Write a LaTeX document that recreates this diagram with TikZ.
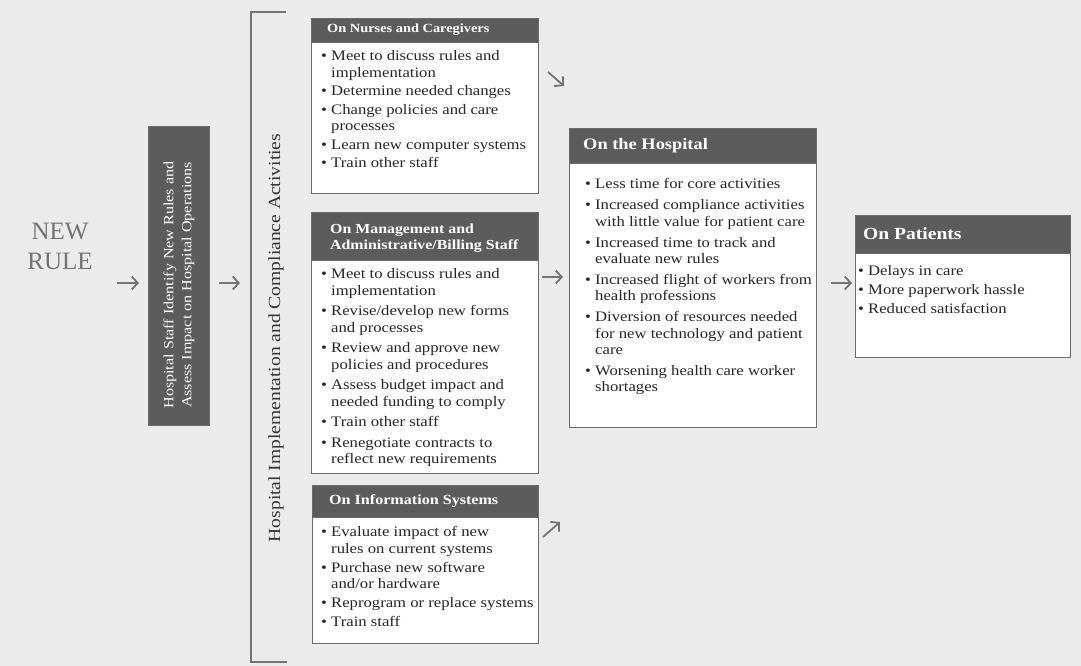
\documentclass[tikz,border=0pt]{standalone}
\usepackage{fontspec}
\setmainfont{Liberation Serif}[FakeStretch=1.15]
\newfontfamily\plainserif{Liberation Serif}
\usetikzlibrary{arrows.meta}
\definecolor{bgc}{gray}{0.92}
\definecolor{hdr}{gray}{0.36}
\definecolor{edge}{gray}{0.42}
\definecolor{arrc}{gray}{0.45}
\newcommand{\bl}{\makebox[10pt][l]{\textbullet}}
\newcommand{\ind}{\hspace*{10pt}}
\begin{document}
\begin{tikzpicture}[x=1pt,y=-1pt,
  panel/.style={draw=edge, line width=1.4pt, fill=white, anchor=north west, inner sep=0pt, rectangle},
  hbar/.style={fill=hdr, draw=edge, line width=1.4pt, anchor=north west, inner sep=0pt, rectangle},
  ttl/.style={text=white, anchor=west, inner sep=0pt, align=left},
  body/.style={anchor=north west, inner sep=0pt, align=left, font=\fontsize{14.5}{16.5}\selectfont, text=black!85},
  arr/.style={draw=arrc, line width=1.8pt, -{Straight Barb[length=6pt,width=13pt]}}
]
\useasboundingbox (0,0) rectangle (1081,666);
\fill[bgc] (0,0) rectangle (1081,666);

% NEW RULE
\node[font=\plainserif\fontsize{25}{30}\selectfont, text=black!55, align=center, inner sep=0pt] (newrule) at (60,246) {NEW\\RULE};

% dark box
\node[fill=hdr, draw=edge, line width=1pt, minimum width=61pt, minimum height=299pt, anchor=north west, inner sep=0pt] (staff) at (148,126) {};
\node[rotate=90, text=white, align=center, inner sep=0pt, font=\fontsize{14}{18}\selectfont] (stafft) at (179,285) {Hospital Staff Identify New Rules and\\Assess Impact on Hospital Operations};

% bracket
\draw[draw=arrc, line width=1.6pt] (286,12) -- (251,12) -- (251,662) -- (287,662);
\node[rotate=90, inner sep=0pt, font=\fontsize{17}{17}\selectfont, text=black!80] (impl) at (276,338) {Hospital Implementation and Compliance Activities};

% Nurses
\node[panel, minimum width=227pt, minimum height=175pt] (nurses) at (311,18) {};
\node[hbar, minimum width=227pt, minimum height=24pt] (nursesH) at (311,18) {};
\node[ttl, font=\bfseries\fontsize{12.5}{14}\selectfont] (nursesT) at (327,30) {On Nurses and Caregivers};
\node[body] (nursesB) at (321,50.5) {\bl Meet to discuss rules and\\\ind implementation\\[2pt]
\bl Determine needed changes\\[2pt]
\bl Change policies and care\\\ind processes\\[2pt]
\bl Learn new computer systems\\[2pt]
\bl Train other staff};

% Management
\node[panel, minimum width=227pt, minimum height=261pt] (mgmt) at (311,212) {};
\node[hbar, minimum width=227pt, minimum height=48pt] (mgmtH) at (311,212) {};
\node[ttl, font=\bfseries\fontsize{13.8}{16}\selectfont] (mgmtT) at (330,238) {On Management and\\Administrative/Billing Staff};
\node[body] (mgmtB) at (321,268.5) {\bl Meet to discuss rules and\\\ind implementation\\[4pt]
\bl Revise/develop new forms\\\ind and processes\\[4pt]
\bl Review and approve new\\\ind policies and procedures\\[4pt]
\bl Assess budget impact and\\\ind needed funding to comply\\[4pt]
\bl Train other staff\\[4pt]
\bl Renegotiate contracts to\\\ind reflect new requirements};

% Information systems
\node[panel, minimum width=226pt, minimum height=158pt] (info) at (312,485) {};
\node[hbar, minimum width=226pt, minimum height=32pt] (infoH) at (312,485) {};
\node[ttl, font=\bfseries\fontsize{14}{16}\selectfont] (infoT) at (329,501) {On Information Systems};
\node[body] (infoB) at (321,526.5) {\bl Evaluate impact of new\\\ind rules on current systems\\[2.5pt]
\bl Purchase new software\\\ind and/or hardware\\[2.5pt]
\bl Reprogram or replace systems\\[2.5pt]
\bl Train staff};

% Hospital
\node[panel, minimum width=247pt, minimum height=299pt] (hosp) at (569,128) {};
\node[hbar, minimum width=247pt, minimum height=35pt] (hospH) at (569,128) {};
\node[ttl, font=\bfseries\fontsize{16}{18}\selectfont] (hospT) at (583,146) {On the Hospital};
\node[body] (hospB) at (585,178.5) {\bl Less time for core activities\\[4.3pt]
\bl Increased compliance activities\\\ind with little value for patient care\\[4.3pt]
\bl Increased time to track and\\\ind evaluate new rules\\[4.3pt]
\bl Increased flight of workers from\\\ind health professions\\[4.3pt]
\bl Diversion of resources needed\\\ind for new technology and patient\\\ind care\\[4.3pt]
\bl Worsening health care worker\\\ind shortages};

% Patients
\node[panel, minimum width=215pt, minimum height=142pt] (pat) at (855,215) {};
\node[hbar, minimum width=215pt, minimum height=38pt] (patH) at (855,215) {};
\node[ttl, font=\bfseries\fontsize{17}{19}\selectfont] (patT) at (863,234) {On Patients};
\node[body] (patB) at (858,265.5) {\bl Delays in care\\[2.5pt]
\bl More paperwork hassle\\[2.5pt]
\bl Reduced satisfaction};

% arrows
\coordinate (a1) at (117,283);
\draw[arr, shorten >=9pt] (a1) -- (a1 -| staff.west);
\coordinate (brk) at (251,283);
\draw[arr, shorten <=9pt, shorten >=11pt] (brk -| staff.east) -- (brk);
\coordinate (d1s) at (548,72);
\coordinate (d1e) at (564,86);
\draw[arr] (d1s) -- (d1e);
\coordinate (h1) at (0,277);
\draw[arr, shorten <=3pt, shorten >=6pt] (mgmt.east |- h1) -- (hosp.west |- h1);
\coordinate (d2s) at (543,537);
\coordinate (d2e) at (560,522);
\draw[arr] (d2s) -- (d2e);
\coordinate (p1) at (0,283);
\draw[arr, shorten <=14pt, shorten >=3pt] (hosp.east |- p1) -- (pat.west |- p1);
\end{tikzpicture}
\end{document}
